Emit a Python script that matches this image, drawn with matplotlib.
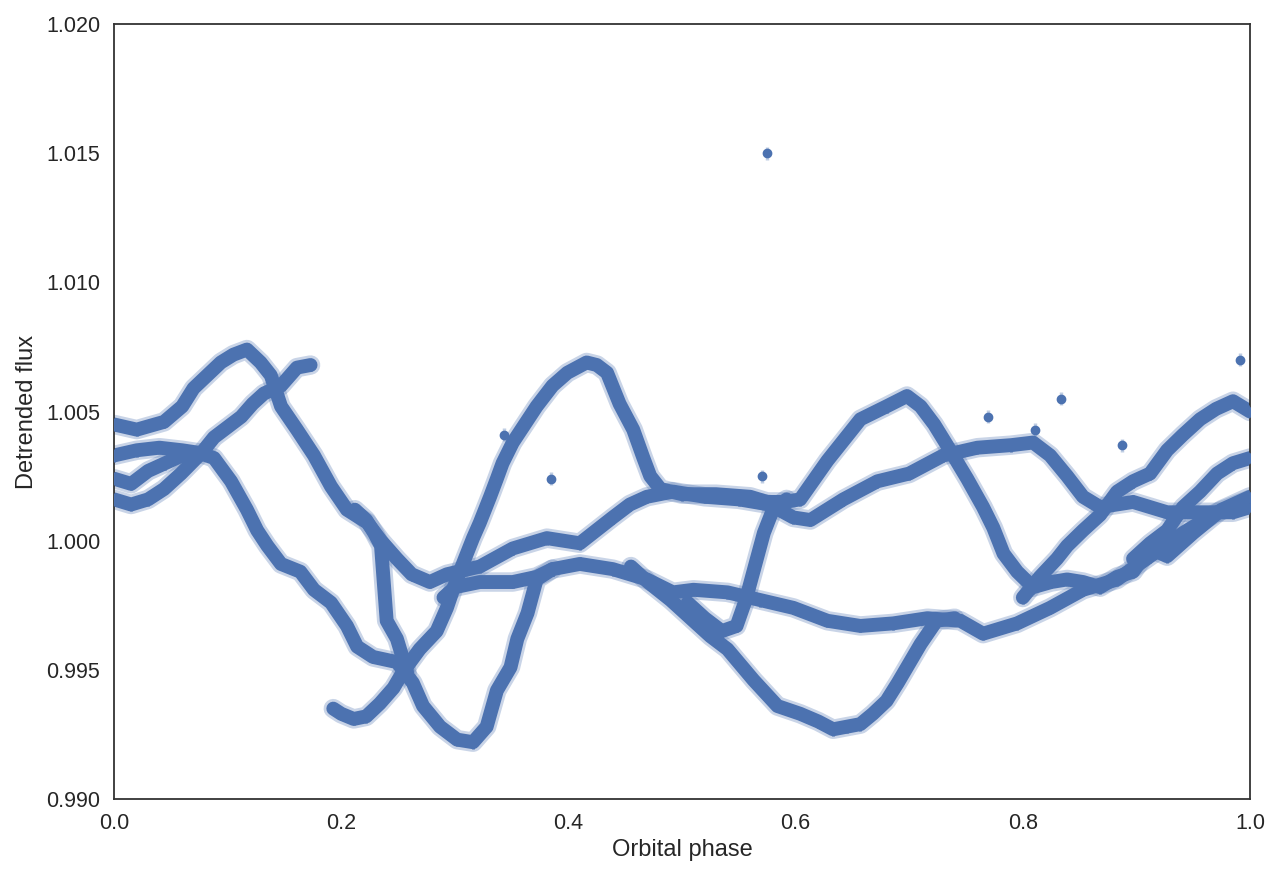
import numpy as np
import matplotlib
matplotlib.use("Agg")
import matplotlib.pyplot as plt

# phase-folded light curve, each track
# (phase, detrended flux) pairs along the visible bands

t1_phase = [0.000, 0.020, 0.044, 0.060, 0.070, 0.082, 0.094, 0.105, 0.117, 0.129,
            0.138, 0.147, 0.161, 0.176, 0.191, 0.205, 0.223, 0.235, 0.249, 0.262,
            0.278, 0.293, 0.322, 0.351, 0.381, 0.410, 0.439, 0.454, 0.469, 0.492,
            0.520, 0.550, 0.577, 0.598, 0.613, 0.642, 0.672, 0.700, 0.730, 0.760,
            0.790, 0.809, 0.824, 0.839, 0.853, 0.868, 0.897, 0.927, 0.956, 0.985, 1.000]
t1_flux = [1.0045, 1.0043, 1.0046, 1.0052, 1.0059, 1.0064, 1.0069, 1.0072, 1.0074, 1.0069,
           1.0064, 1.0052, 1.0043, 1.0033, 1.0021, 1.0012, 1.0007, 1.0000, 0.9993, 0.9987,
           0.9984, 0.9987, 0.9990, 0.9997, 1.0001, 0.9999, 1.0009, 1.0014, 1.0017, 1.0019,
           1.0017, 1.0016, 1.0014, 1.0009, 1.0008, 1.0016, 1.0023, 1.0026, 1.0033, 1.0036,
           1.0037, 1.0038, 1.0033, 1.0025, 1.0017, 1.0013, 1.0015, 1.0011, 1.0011, 1.0011, 1.0013]

t2_phase = [0.000, 0.015, 0.030, 0.044, 0.059, 0.077, 0.088, 0.100, 0.112, 0.122,
            0.132, 0.147, 0.161, 0.173]
t2_flux = [1.0016, 1.0014, 1.0016, 1.0020, 1.0026, 1.0034, 1.0040, 1.0044, 1.0048, 1.0053,
           1.0057, 1.0060, 1.0067, 1.0068]

t3_phase = [0.000, 0.020, 0.040, 0.060, 0.075, 0.088, 0.103, 0.117, 0.126, 0.135,
            0.147, 0.164, 0.176, 0.191, 0.205, 0.214, 0.228, 0.249, 0.263, 0.272,
            0.287, 0.302, 0.316, 0.328, 0.337, 0.349, 0.355, 0.364, 0.372, 0.386,
            0.410, 0.439, 0.469, 0.492, 0.510, 0.540, 0.569, 0.598, 0.628, 0.657,
            0.686, 0.716, 0.745, 0.765, 0.795, 0.824, 0.853, 0.883, 0.912, 0.941,
            0.971, 1.000]
t3_flux = [1.0033, 1.0035, 1.0036, 1.0035, 1.0034, 1.0032, 1.0023, 1.0012, 1.0004, 0.9998,
           0.9991, 0.9988, 0.9981, 0.9976, 0.9967, 0.9959, 0.9955, 0.9953, 0.9945, 0.9936,
           0.9928, 0.9923, 0.9922, 0.9928, 0.9942, 0.9951, 0.9962, 0.9972, 0.9985, 0.9989,
           0.9991, 0.9989, 0.9985, 0.9980, 0.9981, 0.9980, 0.9977, 0.9974, 0.9969, 0.9967,
           0.9968, 0.9970, 0.9969, 0.9964, 0.9968, 0.9974, 0.9981, 0.9985, 0.9994, 1.0003,
           1.0011, 1.0016]

t4_phase = [0.193, 0.200, 0.211, 0.222, 0.234, 0.246, 0.254, 0.269, 0.284, 0.293,
            0.300, 0.307, 0.316, 0.322, 0.331, 0.337, 0.342, 0.351, 0.360, 0.372,
            0.386, 0.399, 0.416, 0.425, 0.434, 0.445, 0.457, 0.466, 0.472, 0.481,
            0.500, 0.530, 0.560, 0.575, 0.590, 0.604, 0.628, 0.657, 0.680, 0.698,
            0.710, 0.722, 0.736, 0.751, 0.765, 0.774, 0.783, 0.795, 0.809, 0.825,
            0.839, 0.853, 0.868, 0.883, 0.897, 0.912, 0.927, 0.950, 0.975, 1.000]
t4_flux = [0.9935, 0.9933, 0.9931, 0.9932, 0.9937, 0.9943, 0.9949, 0.9958, 0.9965, 0.9974,
           0.9983, 0.9991, 1.0001, 1.0007, 1.0017, 1.0024, 1.0030, 1.0038, 1.0044, 1.0052,
           1.0060, 1.0065, 1.0069, 1.0068, 1.0065, 1.0053, 1.0043, 1.0032, 1.0025, 1.0020,
           1.0018, 1.0018, 1.0017, 1.0015, 1.0015, 1.0016, 1.0031, 1.0047, 1.0052, 1.0056,
           1.0052, 1.0045, 1.0035, 1.0024, 1.0013, 1.0005, 0.9995, 0.9988, 0.9982, 0.9984,
           0.9985, 0.9984, 0.9982, 0.9986, 0.9988, 0.9997, 0.9994, 1.0003, 1.0012, 1.0017]

t5_phase = [0.505, 0.520, 0.535, 0.548, 0.556, 0.564, 0.572, 0.580, 0.592]
t5_flux = [0.9976, 0.9970, 0.9965, 0.9967, 0.9977, 0.9990, 1.0003, 1.0012, 1.0016]

t6_phase = [0.455, 0.470, 0.490, 0.510, 0.525, 0.540, 0.563, 0.584, 0.604, 0.620,
            0.633, 0.645, 0.657, 0.668, 0.680, 0.690, 0.698, 0.710, 0.724, 0.740]
t6_flux = [0.9990, 0.9984, 0.9977, 0.9969, 0.9963, 0.9958, 0.9946, 0.9936, 0.9933, 0.9930,
           0.9927, 0.9928, 0.9929, 0.9933, 0.9938, 0.9945, 0.9951, 0.9960, 0.9969, 0.9970]

t7_phase = [0.800, 0.815, 0.830, 0.839, 0.853, 0.868, 0.883, 0.897, 0.912, 0.927,
            0.941, 0.956, 0.970, 0.985, 1.000]
t7_flux = [0.9978, 0.9986, 0.9993, 0.9998, 1.0004, 1.0010, 1.0019, 1.0023, 1.0026, 1.0035,
           1.0041, 1.0047, 1.0051, 1.0054, 1.0050]

t8_phase = [0.897, 0.912, 0.927, 0.941, 0.956, 0.971, 0.985, 1.000]
t8_flux = [0.9993, 0.9999, 1.0004, 1.0013, 1.0019, 1.0026, 1.0030, 1.0032]

t9_phase = [0.000, 0.015, 0.030, 0.045, 0.060]
t9_flux = [1.0024, 1.0022, 1.0027, 1.0030, 1.0033]

col_phase = [0.212, 0.222, 0.229, 0.235, 0.240, 0.249, 0.258]
col_flux = [1.0012, 1.0008, 1.0003, 0.9998, 0.9969, 0.9962, 0.9949]

t10_phase = [0.290, 0.300, 0.322, 0.351, 0.372, 0.386]
t10_flux = [0.9978, 0.9982, 0.9984, 0.9984, 0.9986, 0.9989]

# isolated points
out_phase = [0.575, 0.991, 0.834, 0.887, 0.769, 0.385, 0.343, 0.570, 0.811]
out_flux = [1.0150, 1.0070, 1.0055, 1.0037, 1.0048, 1.0024, 1.0041, 1.0025, 1.0043]

flux_err = 0.00025

tracks = [(t1_phase, t1_flux), (t2_phase, t2_flux), (t3_phase, t3_flux),
          (t4_phase, t4_flux), (t5_phase, t5_flux), (t6_phase, t6_flux),
          (t7_phase, t7_flux), (t8_phase, t8_flux), (t9_phase, t9_flux),
          (col_phase, col_flux), (t10_phase, t10_flux)]

blue = "#4C72B0"
plt.rcParams['font.family'] = ['Liberation Sans', 'DejaVu Sans']

fig = plt.figure(figsize=(12.8, 8.8), dpi=100)
ax = fig.add_axes([0.0891, 0.092, 0.8875, 0.8807])

###bands: light halo for the error bars, then the dense points
for ph, fl in tracks:
    ax.plot(ph, fl, color=blue, alpha=0.3, lw=14, solid_capstyle='round', solid_joinstyle='round', zorder=1)
for ph, fl in tracks:
    ax.plot(ph, fl, color=blue, lw=10, solid_capstyle='round', solid_joinstyle='round', zorder=2)
for ph, fl in tracks:
    ax.errorbar(ph, fl, yerr=flux_err, fmt='o', color=blue, ms=6.5, ecolor=blue,
                elinewidth=2, alpha=1, zorder=3)

ax.errorbar(out_phase, out_flux, yerr=flux_err, fmt='o', color=blue, ms=6,
            ecolor=(0.3, 0.45, 0.69, 0.35), elinewidth=2.5, zorder=3)

ax.set_xlim(0, 1)
ax.set_ylim(0.990, 1.020)
ax.set_xticks([0.0, 0.2, 0.4, 0.6, 0.8, 1.0])
ax.set_yticks([0.990, 0.995, 1.000, 1.005, 1.010, 1.015, 1.020])
ax.set_yticklabels(["0.990", "0.995", "1.000", "1.005", "1.010", "1.015", "1.020"])
ax.tick_params(length=0, labelsize=15.5, colors="#262626", pad=10)
for s in ax.spines.values():
    s.set_color("#333333")
    s.set_linewidth(1.3)
ax.set_xlabel("Orbital phase", fontsize=17, color="#262626", labelpad=4)
ax.set_ylabel("Detrended flux", fontsize=17, color="#262626", labelpad=6)

fig.savefig("out.png", dpi=100)
